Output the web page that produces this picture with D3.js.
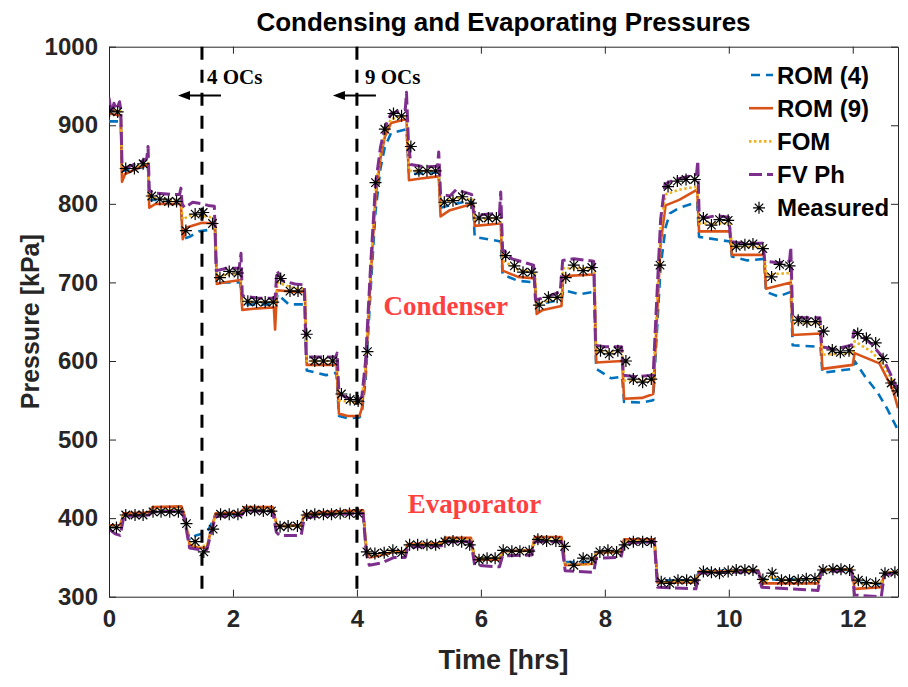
<!DOCTYPE html>
<html>
<head>
<meta charset="utf-8">
<script src="https://cdn.jsdelivr.net/npm/d3@7/dist/d3.min.js"></script>
<style>
  body { margin: 0; background: #fff; }
  svg text { font-family: "Liberation Sans", Arial, Helvetica, sans-serif; }
</style>
</head>
<body>
<svg id="chart" width="908" height="687"></svg>
<script>
// ---------- data: [time (hrs), pressure (kPa)] ----------
const xTicks = [0, 2, 4, 6, 8, 10, 12];
const yTicks = [300, 400, 500, 600, 700, 800, 900, 1000];
const seriesNames = ["ROM (4)", "ROM (9)", "FOM", "FV Ph", "Measured"];

// Condenser
const condROM4 = [[0,905],[0.19,905],[0.21,842],[0.45,845],[0.63,848],[0.65,805],[1.16,805],[1.19,755],[1.3,758],[1.45,765],[1.71,768],[1.74,700],[2.12,700],[2.15,672],[2.69,672],[2.72,685],[2.9,672],[3.16,672],[3.19,588],[3.5,582],[3.67,585],[3.71,530],[3.85,527],[4.04,528],[4.08,535],[4.14,575],[4.22,690],[4.3,790],[4.38,845],[4.45,872],[4.55,890],[4.8,895],[4.84,838],[5.32,840],[5.35,795],[5.6,800],[5.87,805],[5.9,758],[6.32,752],[6.35,710],[6.6,702],[6.87,700],[6.9,672],[7.3,678],[7.33,690],[7.6,685],[7.83,688],[7.86,590],[8.1,578],[8.28,580],[8.31,548],[8.6,547],[8.78,550],[8.82,610],[8.9,720],[8.98,770],[9.05,788],[9.2,795],[9.49,802],[9.52,758],[10.02,752],[10.05,733],[10.3,728],[10.57,730],[10.6,688],[10.8,682],[11.0,688],[11.03,620],[11.48,618],[11.51,585],[12.0,590],[12.03,600],[12.2,580],[12.4,560],[12.55,540],[12.73,512]];
const condROM9 = [[0,915],[0.19,912],[0.21,828],[0.26,838],[0.45,845],[0.63,850],[0.65,795],[0.75,800],[1.16,800],[1.19,755],[1.25,770],[1.5,776],[1.71,775],[1.74,698],[1.85,700],[2.12,703],[2.15,665],[2.4,667],[2.66,668],[2.68,640],[2.71,690],[3.0,688],[3.16,688],[3.19,595],[3.67,595],[3.71,533],[3.85,530],[4.04,530],[4.08,540],[4.14,585],[4.22,705],[4.3,808],[4.38,858],[4.45,885],[4.55,903],[4.8,908],[4.84,830],[5.0,832],[5.32,835],[5.35,784],[5.5,792],[5.87,800],[5.9,772],[6.32,775],[6.35,715],[6.6,707],[6.87,705],[6.9,660],[7.0,665],[7.3,670],[7.33,708],[7.83,710],[7.86,598],[8.28,600],[8.31,552],[8.6,553],[8.78,558],[8.82,620],[8.9,750],[8.98,798],[9.2,805],[9.49,818],[9.52,765],[10.02,765],[10.05,735],[10.57,735],[10.6,692],[11.0,700],[11.03,633],[11.48,635],[11.51,590],[12.0,595],[12.03,610],[12.43,597],[12.65,563],[12.73,540]];
const condFOM = [[0,920],[0.19,918],[0.21,845],[0.4,847],[0.63,852],[0.65,808],[1.0,805],[1.16,806],[1.19,780],[1.3,785],[1.5,785],[1.71,782],[1.74,708],[2.12,712],[2.15,675],[2.69,675],[2.72,700],[3.0,692],[3.16,692],[3.19,600],[3.67,600],[3.71,550],[4.04,546],[4.08,552],[4.14,595],[4.22,715],[4.3,818],[4.38,865],[4.45,890],[4.55,908],[4.8,912],[4.84,842],[5.32,842],[5.35,800],[5.6,808],[5.87,805],[5.9,780],[6.32,782],[6.35,728],[6.6,716],[6.87,713],[6.9,672],[7.3,682],[7.33,718],[7.83,718],[7.86,612],[8.28,612],[8.31,575],[8.78,576],[8.82,640],[8.9,770],[8.98,812],[9.2,818],[9.49,822],[9.52,775],[10.02,775],[10.05,745],[10.57,745],[10.6,710],[11.0,712],[11.03,648],[11.48,648],[11.51,608],[12.0,610],[12.03,625],[12.3,612],[12.5,595],[12.73,562]];
const condFVPh = [[0,935],[0.04,915],[0.08,928],[0.12,920],[0.17,930],[0.19,920],[0.21,850],[0.25,845],[0.4,850],[0.55,855],[0.61,858],[0.63,873],[0.65,818],[0.7,814],[1.0,812],[1.14,812],[1.16,820],[1.18,800],[1.22,795],[1.35,802],[1.5,800],[1.6,798],[1.7,797],[1.73,715],[1.9,718],[2.1,718],[2.13,737],[2.15,683],[2.4,680],[2.68,680],[2.71,715],[2.8,702],[3.0,698],[3.15,697],[3.18,605],[3.4,605],[3.66,605],[3.68,610],[3.71,558],[3.85,553],[4.04,551],[4.08,555],[4.14,600],[4.22,720],[4.3,825],[4.38,872],[4.45,897],[4.55,915],[4.7,918],[4.78,920],[4.8,942],[4.83,880],[4.87,850],[5.1,847],[5.3,848],[5.32,866],[5.35,812],[5.5,810],[5.6,818],[5.85,812],[5.88,790],[6.0,786],[6.3,788],[6.32,815],[6.35,742],[6.5,730],[6.85,722],[6.88,678],[7.0,680],[7.28,688],[7.32,728],[7.5,730],[7.82,727],[7.85,620],[8.0,618],[8.27,618],[8.3,582],[8.5,580],[8.78,582],[8.82,650],[8.9,780],[8.97,825],[9.1,830],[9.4,836],[9.48,838],[9.5,855],[9.52,790],[9.6,782],[9.8,785],[10.0,783],[10.03,752],[10.2,750],[10.55,750],[10.58,727],[10.8,725],[10.98,727],[11.0,745],[11.03,656],[11.2,655],[11.47,655],[11.5,618],[11.7,615],[11.98,620],[12.02,638],[12.3,622],[12.48,605],[12.6,585],[12.73,562]];
const condMeasured = [[0.01,918],[0.14,917],[0.27,845],[0.41,845],[0.55,851],[0.69,810],[0.82,806],[0.96,803],[1.09,803],[1.24,766],[1.39,787],[1.52,789],[1.67,775],[1.79,706],[1.94,714],[2.08,712],[2.24,676],[2.38,675],[2.52,675],[2.65,675],[2.77,705],[2.92,689],[3.05,689],[3.19,634],[3.32,600],[3.46,600],[3.61,600],[3.75,558],[3.89,551],[4.02,549],[4.17,612],[4.30,827],[4.45,895],[4.59,915],[4.72,912],[4.87,873],[5.00,842],[5.13,842],[5.27,842],[5.41,802],[5.55,804],[5.70,809],[5.84,801],[5.97,782],[6.12,782],[6.25,782],[6.40,734],[6.54,721],[6.68,713],[6.82,713],[6.94,671],[7.09,681],[7.23,681],[7.37,706],[7.50,722],[7.65,715],[7.79,719],[7.93,613],[8.07,609],[8.21,613],[8.34,600],[8.46,577],[8.61,573],[8.75,577],[8.89,722],[9.02,822],[9.17,829],[9.31,831],[9.45,831],[9.59,782],[9.72,773],[9.85,780],[9.99,779],[10.12,746],[10.26,748],[10.39,749],[10.55,743],[10.69,707],[10.82,723],[10.98,721],[11.12,652],[11.26,650],[11.40,650],[11.53,638],[11.67,614],[11.80,611],[11.94,613],[12.08,635],[12.22,629],[12.37,623],[12.49,603],[12.62,572],[12.72,562]];

// Evaporator
const evapROM4 = [[0,390],[0.18,390],[0.24,405],[0.64,405],[0.7,410],[1.17,410],[1.22,400],[1.3,372],[1.4,378],[1.58,382],[1.65,392],[1.72,405],[2.14,405],[2.19,410],[2.64,410],[2.7,391],[3.1,391],[3.15,404],[3.5,405],[4.1,407],[4.15,362],[4.2,352],[4.4,354],[4.6,357],[4.78,356],[4.82,366],[5.37,367],[5.42,371],[5.84,371],[5.9,349],[6.3,349],[6.35,359],[6.82,359],[6.87,372],[7.3,372],[7.36,344],[7.82,344],[7.86,357],[8.26,358],[8.31,370],[8.8,370],[8.85,321],[9.47,321],[9.52,333],[10.48,333],[10.53,322],[11.44,322],[11.49,334],[11.98,334],[12.03,318],[12.46,316],[12.51,330],[12.73,331]];
const evapROM9 = [[0,391],[0.18,391],[0.24,406],[0.64,407],[0.7,414],[1.17,415],[1.22,403],[1.3,366],[1.45,362],[1.58,363],[1.65,386],[1.72,406],[2.14,407],[2.19,414],[2.64,414],[2.7,393],[2.75,390],[3.1,391],[3.15,405],[3.5,408],[4.1,410],[4.15,362],[4.2,350],[4.4,353],[4.6,357],[4.78,357],[4.82,367],[5.37,368],[5.42,375],[5.84,375],[5.9,347],[6.3,347],[6.35,358],[6.82,359],[6.87,376],[7.3,376],[7.36,340],[7.82,342],[7.86,356],[8.26,357],[8.31,373],[8.8,373],[8.85,318],[9.47,318],[9.52,332],[10.48,333],[10.53,317],[11.44,317],[11.49,334],[11.98,335],[12.03,310],[12.46,312],[12.51,330],[12.73,331]];
const evapFOM = [[0,390],[0.18,390],[0.24,404],[0.64,405],[0.7,410],[1.17,411],[1.22,400],[1.3,370],[1.4,364],[1.58,365],[1.65,385],[1.72,404],[2.14,405],[2.19,411],[2.64,411],[2.7,392],[2.75,389],[3.1,390],[3.15,403],[3.5,405],[4.1,407],[4.15,365],[4.2,352],[4.35,354],[4.55,358],[4.78,356],[4.82,366],[5.37,367],[5.42,372],[5.84,372],[5.9,350],[6.3,349],[6.35,358],[6.82,358],[6.87,373],[7.3,373],[7.36,342],[7.5,340],[7.82,342],[7.86,356],[8.26,357],[8.31,370],[8.8,371],[8.85,322],[8.9,318],[9.47,320],[9.52,332],[10.48,333],[10.53,322],[10.6,320],[10.7,326],[10.85,321],[11.44,322],[11.49,334],[11.98,335],[12.03,320],[12.1,316],[12.46,318],[12.51,330],[12.73,331]];
const evapFVPh = [[0,386],[0.1,380],[0.18,378],[0.24,402],[0.64,404],[0.7,408],[1.17,409],[1.22,398],[1.3,362],[1.45,360],[1.58,360],[1.65,382],[1.72,402],[2.14,404],[2.19,409],[2.64,409],[2.7,382],[2.75,378],[3.1,378],[3.15,400],[3.5,404],[4.1,406],[4.15,355],[4.2,340],[4.4,343],[4.6,350],[4.78,350],[4.82,363],[5.37,365],[5.42,370],[5.84,370],[5.9,340],[6.3,338],[6.35,352],[6.82,353],[6.87,370],[7.3,370],[7.36,333],[7.82,331],[7.86,349],[8.26,350],[8.31,368],[8.8,370],[8.85,312],[9.47,310],[9.52,330],[10.48,332],[10.53,312],[11.44,308],[11.49,332],[11.98,333],[12.03,302],[12.46,300],[12.51,328],[12.73,330]];
const evapMeasured = [[0.0,388],[0.12,388],[0.27,404],[0.42,404],[0.55,404],[0.71,408],[0.84,408],[0.98,408],[1.12,408],[1.25,393],[1.39,370],[1.53,357],[1.68,386],[1.80,405],[1.94,405],[2.08,405],[2.22,410],[2.35,410],[2.49,409],[2.62,409],[2.76,389],[2.89,390],[3.04,390],[3.19,404],[3.32,405],[3.46,405],[3.59,405],[3.73,406],[3.88,406],[4.02,406],[4.16,357],[4.29,355],[4.44,356],[4.58,359],[4.72,356],[4.85,366],[4.98,366],[5.13,366],[5.27,366],[5.42,370],[5.55,371],[5.69,370],[5.82,366],[5.97,347],[6.10,349],[6.23,349],[6.36,359],[6.50,358],[6.63,358],[6.78,358],[6.92,373],[7.06,371],[7.21,371],[7.35,364],[7.50,340],[7.65,349],[7.79,348],[7.92,357],[8.05,359],[8.19,357],[8.32,366],[8.46,370],[8.61,370],[8.75,370],[8.91,319],[9.05,317],[9.18,321],[9.32,321],[9.45,321],[9.59,332],[9.72,331],[9.85,330],[9.99,332],[10.12,334],[10.26,334],[10.39,334],[10.55,322],[10.70,330],[10.85,321],[10.98,321],[11.12,321],[11.25,323],[11.39,323],[11.52,334],[11.68,335],[11.81,335],[11.95,334],[12.09,321],[12.22,318],[12.37,317],[12.52,330],[12.68,331]];

// Operating-condition markers (vertical dashed lines)
const ocTimes = [1.5, 4.0];
const ocLabels = ["4 OCs", "9 OCs"];

// ---------- layout ----------
const svg = d3.select("#chart");
const plotLeft = 109, plotRight = 898, plotTop = 46.7, plotBottom = 596.7;
const x = d3.scaleLinear().domain([0, 12.73]).range([plotLeft, plotRight]);
const y = d3.scaleLinear().domain([300, 1000]).range([plotBottom, plotTop]);
const axisColor = "#262626";

svg.append("rect").attr("width", 908).attr("height", 687).attr("fill", "#fff");

svg.append("defs").append("clipPath").attr("id", "plotClip")
  .append("rect").attr("x", plotLeft).attr("y", plotTop)
  .attr("width", plotRight - plotLeft).attr("height", plotBottom - plotTop);

// ---------- axes ----------
const gx = svg.append("g").attr("transform", `translate(0,${plotBottom})`)
  .call(d3.axisBottom(x).tickValues(xTicks).tickFormat(d3.format("d"))
    .tickSizeInner(-7).tickSizeOuter(0).tickPadding(13));
const gy = svg.append("g").attr("transform", `translate(${plotLeft},0)`)
  .call(d3.axisLeft(y).tickValues(yTicks).tickFormat(d3.format("d"))
    .tickSizeInner(-7).tickSizeOuter(0).tickPadding(11));
const gxTop = svg.append("g").attr("transform", `translate(0,${plotTop})`)
  .call(d3.axisTop(x).tickValues(xTicks).tickFormat("").tickSizeInner(-7).tickSizeOuter(0));
const gyRight = svg.append("g").attr("transform", `translate(${plotRight},0)`)
  .call(d3.axisRight(y).tickValues(yTicks).tickFormat("").tickSizeInner(-7).tickSizeOuter(0));

[gx, gy, gxTop, gyRight].forEach(g => {
  g.selectAll("path.domain").attr("stroke", axisColor).attr("stroke-width", 1);
  g.selectAll(".tick line").attr("stroke", axisColor).attr("stroke-width", 1);
  g.selectAll(".tick text").attr("fill", axisColor)
    .style("font-size", "24px").style("font-weight", "bold");
});

// axis titles
svg.append("text").attr("x", (plotLeft + plotRight) / 2).attr("y", 669)
  .attr("text-anchor", "middle").attr("fill", axisColor)
  .style("font-size", "27px").style("font-weight", "bold").text("Time [hrs]");
svg.append("text")
  .attr("transform", `translate(39,${(plotTop + plotBottom) / 2}) rotate(-90)`)
  .attr("text-anchor", "middle").attr("fill", axisColor)
  .style("font-size", "25px").style("font-weight", "bold").text("Pressure [kPa]");

// chart title
svg.append("text").attr("x", (plotLeft + plotRight) / 2).attr("y", 31)
  .attr("text-anchor", "middle").attr("fill", "#000")
  .style("font-size", "26px").style("font-weight", "bold")
  .text("Condensing and Evaporating Pressures");

// ---------- series ----------
const styles = [
  { color: "#0072BD", width: 2.6, dash: "9,6" },
  { color: "#D95319", width: 2.6, dash: null },
  { color: "#EDB120", width: 2.6, dash: "2.5,2.5" },
  { color: "#7E2F8E", width: 3, dash: "13,5" }
];
const lineSets = [
  [condROM4, evapROM4],
  [condROM9, evapROM9],
  [condFOM, evapFOM],
  [condFVPh, evapFVPh]
];
const line = d3.line().x(d => x(d[0])).y(d => y(d[1]));
const plot = svg.append("g").attr("clip-path", "url(#plotClip)");

lineSets.forEach((pair, i) => {
  pair.forEach(data => {
    plot.append("path").datum(data).attr("d", line)
      .attr("fill", "none").attr("stroke", styles[i].color)
      .attr("stroke-width", styles[i].width)
      .attr("stroke-dasharray", styles[i].dash)
      .attr("stroke-linejoin", "round");
  });
});

// asterisk marker shape
function asterisk(r) {
  const a = r * 0.7071;
  return `M${-r},0L${r},0M0,${-r}L0,${r}M${-a},${-a}L${a},${a}M${-a},${a}L${a},${-a}`;
}
[condMeasured, evapMeasured].forEach(data => {
  plot.selectAll(null).data(data).enter().append("path")
    .attr("transform", d => `translate(${x(d[0])},${y(d[1])})`)
    .attr("d", asterisk(6)).attr("fill", "none")
    .attr("stroke", "#000").attr("stroke-width", 1.2);
});

// ---------- OC annotations ----------
const ann = svg.append("g");
ocTimes.forEach((t, i) => {
  ann.append("line").attr("x1", x(t)).attr("x2", x(t))
    .attr("y1", y(1000)).attr("y2", y(300))
    .attr("stroke", "#000").attr("stroke-width", 3).attr("stroke-dasharray", "13,10");
  const ay = y(938);
  const xs = x(t) + 19, xe = x(t) - 24;
  ann.append("line").attr("x1", xs).attr("x2", xe + 9).attr("y1", ay).attr("y2", ay)
    .attr("stroke", "#000").attr("stroke-width", 2);
  ann.append("path")
    .attr("d", `M${xe},${ay}L${xe + 12},${ay - 4.5}L${xe + 12},${ay + 4.5}Z`)
    .attr("fill", "#000");
  ann.append("text").attr("x", x(t) + (i === 0 ? 5 : 8)).attr("y", y(953))
    .style("font-family", "'Liberation Serif', 'Times New Roman', serif")
    .style("font-size", "21px").style("font-weight", "bold").attr("fill", "#000")
    .text(ocLabels[i]);
});

// region labels
svg.append("text").attr("x", x(4.43)).attr("y", y(658))
  .style("font-family", "'Liberation Serif', 'Times New Roman', serif")
  .style("font-size", "27px").style("font-weight", "bold").attr("fill", "#FF4040")
  .text("Condenser");
svg.append("text").attr("x", x(4.82)).attr("y", y(406))
  .style("font-family", "'Liberation Serif', 'Times New Roman', serif")
  .style("font-size", "27px").style("font-weight", "bold").attr("fill", "#FF4040")
  .text("Evaporator");

// ---------- legend ----------
const legend = svg.append("g");
seriesNames.forEach((name, i) => {
  const ly = 75 + i * 33.2;
  if (i < 4) {
    legend.append("line").attr("x1", 749).attr("x2", 773).attr("y1", ly).attr("y2", ly)
      .attr("stroke", styles[i].color).attr("stroke-width", styles[i].width)
      .attr("stroke-dasharray", styles[i].dash)
      .attr("stroke-dashoffset", i === 0 ? -2 : 0);
  } else {
    legend.append("path").attr("transform", `translate(759,${ly})`)
      .attr("d", asterisk(6)).attr("fill", "none")
      .attr("stroke", "#000").attr("stroke-width", 1.2);
  }
  legend.append("text").attr("x", 777).attr("y", ly).attr("dy", "0.36em")
    .attr("fill", "#000").style("font-size", "24px").style("font-weight", "bold")
    .text(name);
});
</script>
</body>
</html>
